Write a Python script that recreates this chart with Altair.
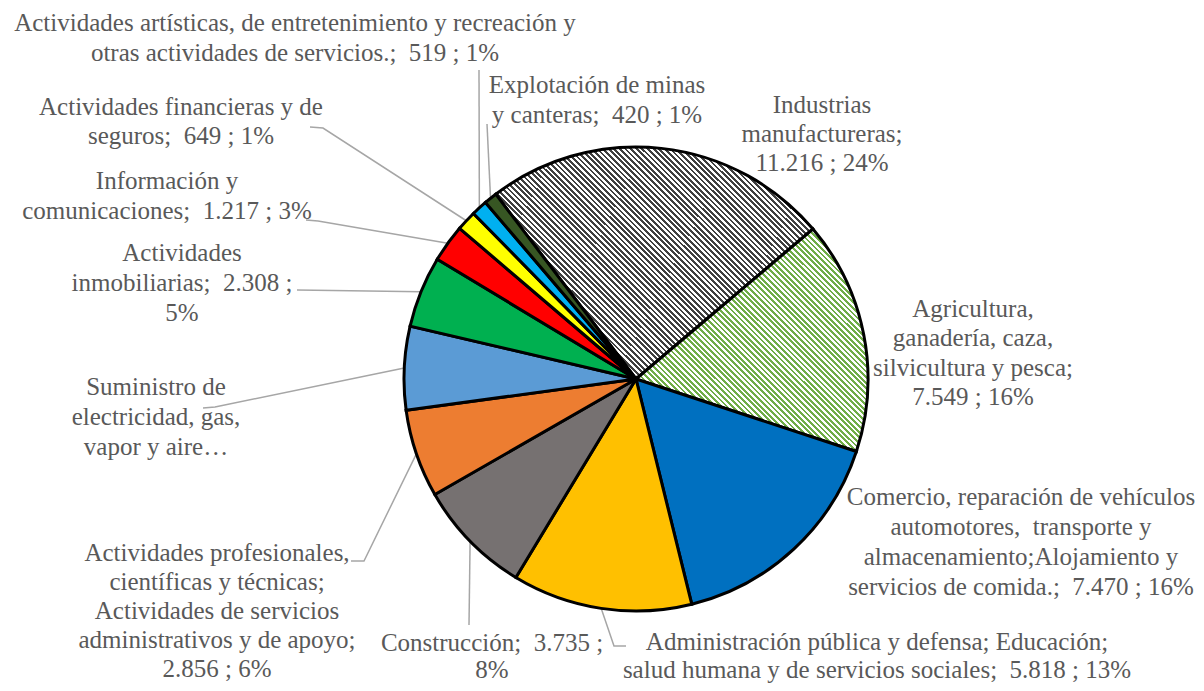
import math
import altair as alt
import pandas as pd

# ---------------- data ----------------
sectors = [
    "Industrias manufactureras",
    "Agricultura, ganadería, caza, silvicultura y pesca",
    "Comercio, reparación de vehículos automotores, transporte y almacenamiento;Alojamiento y servicios de comida.",
    "Administración pública y defensa; Educación; salud humana y de servicios sociales",
    "Construcción",
    "Actividades profesionales, científicas y técnicas; Actividades de servicios administrativos y de apoyo",
    "Suministro de electricidad, gas, vapor y aire acondicionado",
    "Actividades inmobiliarias",
    "Información y comunicaciones",
    "Actividades financieras y de seguros",
    "Actividades artísticas, de entretenimiento y recreación y otras actividades de servicios.",
    "Explotación de minas y canteras",
]
values = [11216, 7549, 7470, 5818, 3735, 2856, 2700, 2308, 1217, 649, 519, 420]
fill_colors = ["#FFFFFF", "#FFFFFF", "#0070C0", "#FFC000", "#767171", "#ED7D31",
               "#5B9BD5", "#00B050", "#FF0000", "#FFFF00", "#00B0F0", "#375623"]

label_lines = [
    ["Industrias", "manufactureras;", "11.216 ; 24%"],
    ["Agricultura,", "ganadería, caza,", "silvicultura y pesca;", "7.549 ; 16%"],
    ["Comercio, reparación de vehículos", "automotores,  transporte y",
     "almacenamiento;Alojamiento y", "servicios de comida.;  7.470 ; 16%"],
    ["Administración pública y defensa; Educación;",
     "salud humana y de servicios sociales;  5.818 ; 13%"],
    ["Construcción;  3.735 ;", "8%"],
    ["Actividades profesionales,", "científicas y técnicas;", "Actividades de servicios",
     "administrativos y de apoyo;", "2.856 ; 6%"],
    ["Suministro de", "electricidad, gas,", "vapor y aire…"],
    ["Actividades", "inmobiliarias;  2.308 ;", "5%"],
    ["Información y", "comunicaciones;  1.217 ; 3%"],
    ["Actividades financieras y de", "seguros;  649 ; 1%"],
    ["Actividades artísticas, de entretenimiento y recreación y",
     "otras actividades de servicios.;  519 ; 1%"],
    ["Explotación de minas", "y canteras;  420 ; 1%"],
]

# ---------------- layout (page pixels) ----------------
OFF = 8
W, H = 1188, 675
CX, CY, R = 636 - OFF, 379 - OFF, 232
START_DEG = 322.8
FONT = "Liberation Serif"
FSIZE = 25
TEXT_COLOR = "#595959"
LEADER_COLOR = "#A6A6A6"

# label block: centre x, first line y, line step
label_pos = [
    (822, 105, 29.0),
    (973, 309, 29.3),
    (1021, 497, 30.0),
    (877, 642, 27.5),
    (492, 643, 27.0),
    (217, 553, 29.0),
    (156, 387, 30.0),
    (182, 253, 30.0),
    (167, 181, 30.0),
    (181, 107, 29.0),
    (295, 23, 30.0),
    (597, 85, 30.0),
]
# leader line anchor points on the label side (page pixels), None = no leader
leader_pts = [
    None,
    None,
    None,
    [(626, 646), (614, 646)],
    [(469, 625)],
    [(351, 561), (364, 561)],
    [(203, 408), (215, 407)],
    [(297, 290)],
    [(306, 220), (318, 221)],
    [(310, 127), (323, 128)],
    [(479, 70)],
    [(487, 124)],
]

total = sum(values)
a0 = math.radians(START_DEG)

# slice angles derived from the data (for leaders and pattern geometry)
cum = 0
angles = []
for v in values:
    s = a0 + 2 * math.pi * cum / total
    cum += v
    e = a0 + 2 * math.pi * cum / total
    angles.append((s, e))


def pt(theta, r):
    return (CX + r * math.sin(theta), CY - r * math.cos(theta))


def bbox(s, e):
    xs, ys = [CX], [CY]
    for t in (s, e):
        x, y = pt(t, R)
        xs.append(x); ys.append(y)
    k = math.ceil(s / (math.pi / 2))
    while k * math.pi / 2 < e:
        x, y = pt(k * math.pi / 2, R)
        xs.append(x); ys.append(y)
        k += 1
    return max(xs) - min(xs), max(ys) - min(ys)


def stripe_gradient(idx, c_line, c_bg, period=4.0):
    w, h = bbox(*angles[idx])
    w += 3; h += 3
    k = w * (w + h) / (w * w + h * h)
    n = int(round(((w + h) / math.sqrt(2)) / period))
    stops = []
    for i in range(n):
        a = i / n
        b = (i + 0.5) / n
        c = (i + 1) / n
        stops += [
            {"offset": round(a, 6), "color": c_line},
            {"offset": round(b, 6), "color": c_line},
            {"offset": round(b, 6), "color": c_bg},
            {"offset": round(c, 6), "color": c_bg},
        ]
    return {"gradient": "linear", "x1": 0, "y1": 1, "x2": k, "y2": 1 - k * h / w,
            "stops": stops}


pie_df = pd.DataFrame({"sector": sectors, "value": values, "idx": list(range(len(values)))})

conds = [
    {"test": "datum.idx == 0", "value": stripe_gradient(0, "#404040", "#FFFFFF")},
    {"test": "datum.idx == 1", "value": stripe_gradient(1, "#70AD47", "#FFFFFF")},
]

pie = alt.Chart(pie_df).mark_arc(outerRadius=R, stroke="#000000", strokeWidth=3,
                                 strokeJoin="miter").encode(
    theta=alt.Theta("value:Q", stack=True,
                    scale=alt.Scale(domain=[0, total], range=[a0, a0 + 2 * math.pi])),
    order=alt.Order("idx:Q"),
    color=alt.Color("sector:N", scale=alt.Scale(domain=sectors, range=fill_colors),
                    legend=None, condition=conds),
    x=alt.value(CX),
    y=alt.value(CY),
)

# text labels (keep double spaces visible)
rows = []
for i, lines in enumerate(label_lines):
    x, y0, step = label_pos[i]
    for j, t in enumerate(lines):
        rows.append({"x": x - OFF, "y": y0 + j * step - OFF,
                     "t": t.replace("  ", " \u00a0")})
text_df = pd.DataFrame(rows)
texts = alt.Chart(text_df).mark_text(font=FONT, fontSize=FSIZE, color=TEXT_COLOR,
                                     align="center", baseline="middle").encode(
    x=alt.X("x:Q", scale=None), y=alt.Y("y:Q", scale=None), text="t:N")

# leader lines
lrows = []
for i, pts in enumerate(leader_pts):
    if not pts:
        continue
    mid = (angles[i][0] + angles[i][1]) / 2
    ex, ey = pt(mid, R)
    seq = [(px - OFF, py - OFF) for px, py in pts] + [(ex, ey)]
    for j, (px, py) in enumerate(seq):
        lrows.append({"id": i, "o": j, "x": px, "y": py})
lead_df = pd.DataFrame(lrows)
leaders = alt.Chart(lead_df).mark_line(color=LEADER_COLOR, strokeWidth=1.5).encode(
    x=alt.X("x:Q", scale=None), y=alt.Y("y:Q", scale=None),
    detail="id:N", order="o:Q")

chart = alt.layer(leaders, pie, texts).properties(
    width=W, height=H, autosize=alt.AutoSizeParams(type="none"), padding=0
).configure_view(stroke=None)

chart.save("out.html", embed_options={"renderer": "svg", "actions": False})
